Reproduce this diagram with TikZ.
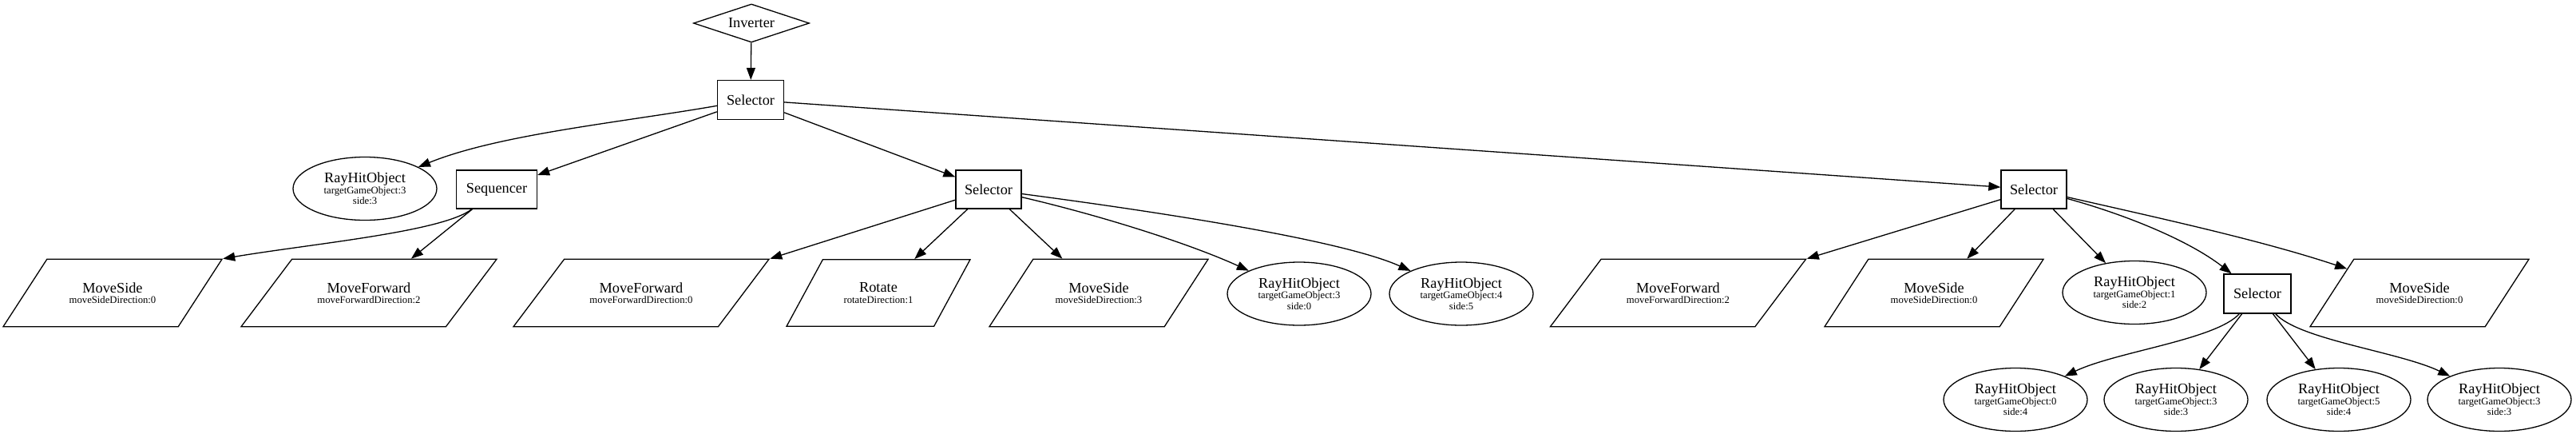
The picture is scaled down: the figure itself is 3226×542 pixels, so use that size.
\documentclass[tikz,border=0pt]{standalone}
\usepackage{fontspec}
\setmainfont{Liberation Serif}
\usetikzlibrary{shapes.geometric,arrows.meta}
\newcommand\nfmain{\fontsize{18.3}{20}\selectfont}
\newcommand\nfsub{\fontsize{12.7}{13.5}\selectfont}
\tikzset{
  base/.style={draw=black, line width=1.3pt, inner sep=0pt, align=center, font=\nfsub},
  boxnode/.style={base, rectangle, minimum width=82pt, minimum height=48pt, font=\nfmain},
  ray/.style={base, ellipse, minimum width=180pt, minimum height=79pt},
  parabase/.style={base, trapezium, trapezium stretches body=true, inner ysep=29pt},
  paraMS/.style={parabase, trapezium left angle=57, trapezium right angle=123, minimum width=274pt},
  paraMF/.style={parabase, trapezium left angle=53, trapezium right angle=127, minimum width=320pt},
  paraRot/.style={parabase, trapezium left angle=61.5, trapezium right angle=118.5, minimum width=230pt},
  edge/.style={draw=black, line width=1.3pt, -{Triangle[length=15pt,width=11pt]}}
}
\begin{document}
\begin{tikzpicture}[x=1pt,y=-1pt]
\useasboundingbox (0,0) rectangle (3226,542);
% nodes
\node[base, diamond, shape aspect=3, minimum width=145pt, minimum height=48pt, font=\nfmain] (inv) at (941,29) {Inverter};
\node[boxnode, minimum width=83pt, minimum height=49pt] (sel0) at (940,125) {Selector};
\node[ray] (ray1) at (457,236) {{\nfmain RayHitObject}\\targetGameObject:3\\side:3};
\node[boxnode, minimum width=101pt] (seq) at (622,237) {Sequencer};
\node[boxnode] (sel2) at (1238,237) {Selector};
\node[boxnode] (sel3) at (2547,237) {Selector};
\node[paraMS] (ms1) at (141,366.5) {{\nfmain MoveSide}\\moveSideDirection:0};
\node[paraMF] (mf1) at (462,366.5) {{\nfmain MoveForward}\\moveForwardDirection:2};
\node[paraMF] (mf2) at (803,366.5) {{\nfmain MoveForward}\\moveForwardDirection:0};
\node[paraRot] (rot) at (1100,366.5) {{\nfmain Rotate}\\rotateDirection:1};
\node[paraMS] (ms2) at (1376,366.5) {{\nfmain MoveSide}\\moveSideDirection:3};
\node[ray] (ray2) at (1627,367.5) {{\nfmain RayHitObject}\\targetGameObject:3\\side:0};
\node[ray] (ray3) at (1830,367.5) {{\nfmain RayHitObject}\\targetGameObject:4\\side:5};
\node[paraMF] (mf3) at (2101.5,366.5) {{\nfmain MoveForward}\\moveForwardDirection:2};
\node[paraMS] (ms3) at (2422,366.5) {{\nfmain MoveSide}\\moveSideDirection:0};
\node[ray] (ray4) at (2673,366) {{\nfmain RayHitObject}\\targetGameObject:1\\side:2};
\node[boxnode, minimum width=84pt, minimum height=49pt] (sel4) at (2827,367.5) {Selector};
\node[paraMS] (ms4) at (3030,366.5) {{\nfmain MoveSide}\\moveSideDirection:0};
\node[ray] (ray5) at (2524,500) {{\nfmain RayHitObject}\\targetGameObject:0\\side:4};
\node[ray] (ray6) at (2725,500) {{\nfmain RayHitObject}\\targetGameObject:3\\side:3};
\node[ray] (ray7) at (2929,500) {{\nfmain RayHitObject}\\targetGameObject:5\\side:4};
\node[ray] (ray8) at (3130,500) {{\nfmain RayHitObject}\\targetGameObject:3\\side:3};
% edges
\draw[edge] (inv) -- (sel0);
\draw[edge] (sel0) .. controls (779,153) and (625,168) .. (ray1);
\draw[edge] (sel0) -- (seq);
\draw[edge] (sel0) -- (sel2);
\draw[edge] (sel0) -- (sel3);
\draw[edge] (seq) .. controls (555,290) and (390,305) .. (ms1.top right corner);
\draw[edge] (seq) -- (mf1);
\draw[edge] (sel2) -- (mf2.top right corner);
\draw[edge] (sel2) -- (rot);
\draw[edge] (sel2) -- (ms2);
\draw[edge] (sel2) .. controls (1380,270) and (1490,305) .. (ray2);
\draw[edge] (sel2) .. controls (1450,265) and (1680,300) .. (ray3);
\draw[edge] (sel3) -- (mf3.top right corner);
\draw[edge] (sel3) -- (ms3);
\draw[edge] (sel3) -- (ray4);
\draw[edge] (sel3) .. controls (2660,268) and (2740,300) .. (sel4);
\draw[edge] (sel3) .. controls (2700,272) and (2830,300) .. (ms4);
\draw[edge] (sel4) .. controls (2775,425) and (2650,440) .. (ray5);
\draw[edge] (sel4) -- (ray6);
\draw[edge] (sel4) -- (ray7);
\draw[edge] (sel4) .. controls (2879,425) and (3004,440) .. (ray8);
\end{tikzpicture}
\end{document}
